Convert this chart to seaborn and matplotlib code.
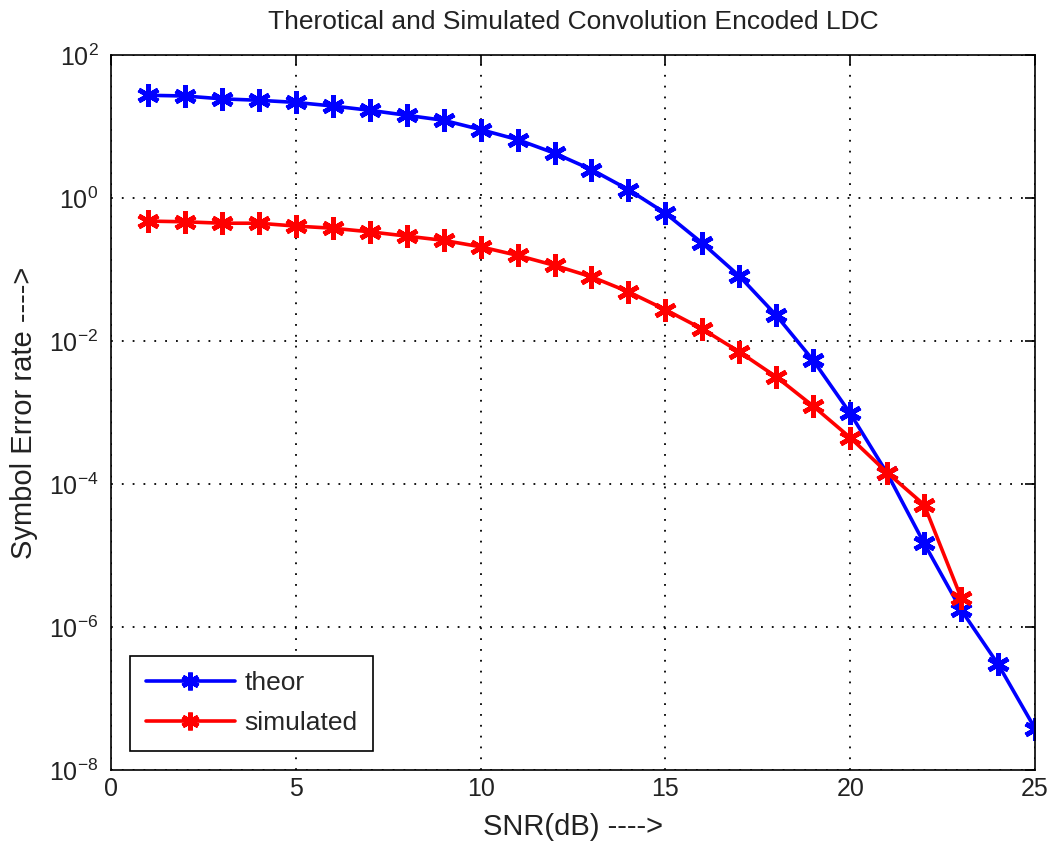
import numpy as np
import pandas as pd
import matplotlib
matplotlib.use("Agg")
import matplotlib.pyplot as plt
import seaborn as sns

snr_theor = list(range(1, 26))
theor_log = [1.44, 1.43, 1.39, 1.37, 1.34, 1.29, 1.23, 1.16, 1.09, 0.96,
             0.82, 0.63, 0.40, 0.12, -0.21, -0.63, -1.09, -1.64, -2.27, -3.01,
             -3.85, -4.83, -5.76, -6.52, -7.42]
snr_sim = list(range(1, 24))
sim_log = [-0.32, -0.33, -0.35, -0.35, -0.39, -0.42, -0.47, -0.53, -0.59, -0.68,
           -0.80, -0.94, -1.10, -1.31, -1.56, -1.83, -2.15, -2.50, -2.91, -3.35,
           -3.84, -4.29, -5.59]
theor = [10 ** v for v in theor_log]
sim = [10 ** v for v in sim_log]

df = pd.concat([
    pd.DataFrame({"snr": snr_theor, "ser": theor, "series": "theor"}),
    pd.DataFrame({"snr": snr_sim, "ser": sim, "series": "simulated"}),
])

sns.set_style("white")
plt.rcParams['font.family'] = ['Liberation Sans', 'DejaVu Sans']
plt.rcParams['mathtext.fontset'] = 'custom'
plt.rcParams['mathtext.rm'] = 'Liberation Sans'

fig = plt.figure(figsize=(10.49, 8.5), dpi=100)
ax = fig.add_axes([0.1058, 0.0941, 0.8809, 0.8409])

sns.lineplot(data=df, x="snr", y="ser", hue="series", style="series",
             palette={"theor": "#0000ff", "simulated": "#ff0000"},
             markers={"theor": (6, 2, 0), "simulated": (6, 2, 0)},
             dashes=False, markersize=16, markeredgewidth=3.4,
             linewidth=2.6, ax=ax, sort=False, legend=False)
for ln in ax.lines:
    ln.set_markeredgecolor(ln.get_color())
    ln.set_markerfacecolor(ln.get_color())
    ln.set_linestyle("-")

ax.set_yscale("log")
ax.set_xlim(0, 25)
ax.set_ylim(1e-8, 1e2)
ax.set_xticks([0, 5, 10, 15, 20, 25])
ax.set_yticks([1e-8, 1e-6, 1e-4, 1e-2, 1e0, 1e2])
ax.minorticks_off()
ax.tick_params(direction="in", length=7, width=1.2, top=True, right=True,
               labelsize=18, pad=9, colors="black")
ax.tick_params(axis="x", pad=5)
for lab in ax.get_xticklabels() + ax.get_yticklabels():
    lab.set_color("#222222")
ax.grid(True, which="major", linestyle=(0, (1, 5)), color="black", linewidth=1.3)
for s in ax.spines.values():
    s.set_color("black")
    s.set_linewidth(1.2)

ax.set_xlabel("SNR(dB) ---->", fontsize=21, color="#222222", labelpad=9)
ax.set_ylabel("Symbol Error rate ---->", fontsize=21, color="#222222", labelpad=8)
ax.set_title("Therotical and Simulated Convolution Encoded LDC", fontsize=19,
             pad=19, color="#222222")

handles = ax.lines[:2]
leg = ax.legend(handles, ["theor", "simulated"], loc="lower left",
                bbox_to_anchor=(0.006, 0.008), fontsize=19,
                frameon=True, fancybox=False, edgecolor="black", framealpha=1,
                handlelength=3.4, handletextpad=0.35, borderpad=0.6,
                labelspacing=0.6, markerscale=0.8)
leg.get_frame().set_linewidth(1.2)

fig.savefig("out.png", dpi=100)
